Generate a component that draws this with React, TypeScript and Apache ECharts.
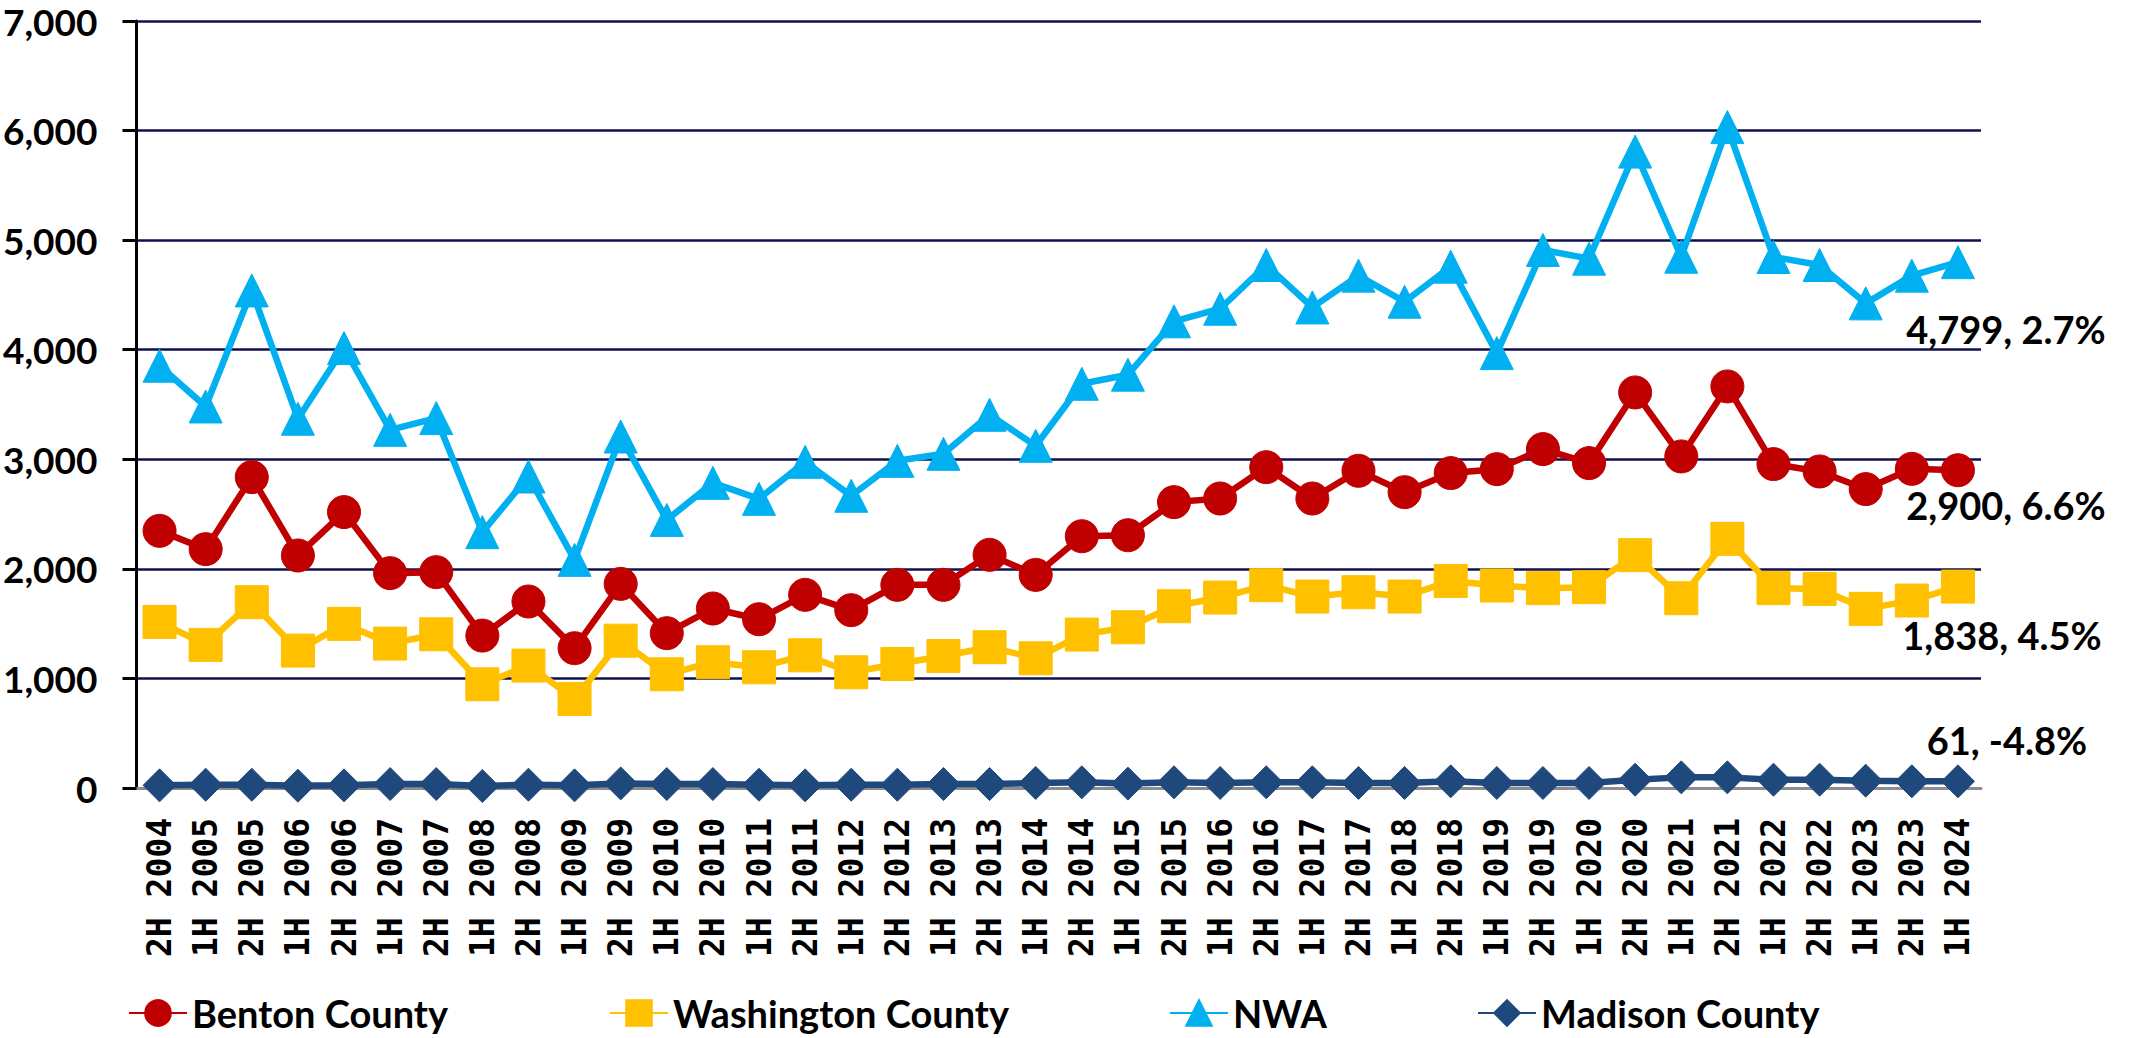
import React, { useEffect, useRef } from 'react';
import * as echarts from 'echarts';

const categories = [
  '2H 2004', '1H 2005', '2H 2005', '1H 2006', '2H 2006', '1H 2007', '2H 2007', '1H 2008',
  '2H 2008', '1H 2009', '2H 2009', '1H 2010', '2H 2010', '1H 2011', '2H 2011', '1H 2012',
  '2H 2012', '1H 2013', '2H 2013', '1H 2014', '2H 2014', '1H 2015', '2H 2015', '1H 2016',
  '2H 2016', '1H 2017', '2H 2017', '1H 2018', '2H 2018', '1H 2019', '2H 2019', '1H 2020',
  '2H 2020', '1H 2021', '2H 2021', '1H 2022', '2H 2022', '1H 2023', '2H 2023', '1H 2024',
];

const benton = [
  2347, 2180, 2837, 2122, 2518, 1961, 1970, 1391, 1702, 1276, 1863, 1413, 1638, 1540, 1763, 1623,
  1854, 1854, 2128, 1945, 2298, 2307, 2609, 2642, 2928, 2642, 2895, 2700, 2874, 2910, 3093, 2965,
  3610, 3026, 3665, 2956, 2889, 2728, 2913, 2900,
];

const washington = [
  1516, 1306, 1696, 1254, 1498, 1318, 1403, 947, 1117, 813, 1345, 1038, 1148, 1102, 1211, 1056,
  1132, 1205, 1285, 1184, 1400, 1467, 1659, 1738, 1851, 1747, 1787, 1747, 1890, 1848, 1824, 1833,
  2125, 1732, 2274, 1824, 1817, 1635, 1711, 1838,
];

const nwa = [
  3854, 3482, 4541, 3370, 4015, 3269, 3376, 2335, 2843, 2082, 3208, 2447, 2785, 2639, 2977, 2667,
  2986, 3050, 3406, 3123, 3689, 3772, 4259, 4374, 4773, 4386, 4676, 4438, 4758, 3969, 4910, 4831,
  5808, 4849, 6032, 4846, 4773, 4423, 4676, 4799,
];

const madison = [
  24, 30, 30, 21, 24, 36, 36, 18, 30, 24, 42, 36, 36, 30, 24, 30,
  30, 36, 36, 46, 52, 40, 52, 46, 52, 52, 46, 46, 61, 46, 46, 46,
  76, 97, 97, 76, 76, 67, 61, 61,
];

const seriesNames = ['Benton County', 'Washington County', 'NWA', 'Madison County'];
const endLabels = ['2,900, 6.6%', '1,838, 4.5%', '4,799, 2.7%', '61, -4.8%'];

const yMin = 0;
const yMax = 7000;
const yInterval = 1000;

const LABEL_FONT = 'Lato, "Open Sans", sans-serif';

function makeSeries(
  name: string,
  values: number[],
  color: string,
  symbol: string,
  endLabel: string,
  shift: number[],
) {
  const data = values.map((v, i) => {
    if (i !== values.length - 1) return v;
    return {
      value: v,
      label: {
        show: true,
        formatter: endLabel,
        position: 'inside',
        align: 'center',
        verticalAlign: 'middle',
        color: '#000',
        fontFamily: LABEL_FONT,
        fontWeight: 'bold',
        fontSize: 38,
      },
    };
  });
  return {
    name,
    type: 'line',
    data,
    symbol,
    symbolSize: 33,
    showAllSymbol: true,
    clip: false,
    lineStyle: { color, width: 6.5 },
    itemStyle: { color, borderColor: color, borderWidth: 1 },
    emphasis: { disabled: true },
    labelLayout: { hideOverlap: false, dx: shift[0], dy: shift[1] },
  };
}

const legendLefts = [128, 609, 1169, 1477];

const option = {
  animation: false,
  backgroundColor: '#ffffff',
  grid: { left: 135, right: 152, top: 21, bottom: 250, containLabel: false },
  legend: seriesNames.map((n, i) => ({
    data: [n],
    left: legendLefts[i],
    top: 993,
    padding: 0,
    itemWidth: 58,
    itemHeight: 32,
    itemGap: 0,
    selectedMode: false,
    textStyle: {
      color: '#000',
      fontFamily: LABEL_FONT,
      fontWeight: 'bold',
      fontSize: 38,
      lineHeight: 40,
    },
  })),
  xAxis: {
    type: 'category',
    data: categories,
    boundaryGap: true,
    axisLine: { show: true, lineStyle: { color: '#8C8C8C', width: 3 } },
    axisTick: { show: false },
    splitLine: { show: false },
    axisLabel: {
      interval: 0,
      rotate: 90,
      margin: 30,
      color: '#000',
      fontFamily: '"DejaVu Sans Mono", monospace',
      fontWeight: 'bold',
      fontSize: 33,
    },
  },
  yAxis: {
    type: 'value',
    min: yMin,
    max: yMax,
    interval: yInterval,
    axisLine: { show: true, lineStyle: { color: '#000', width: 3 } },
    axisTick: { show: true, length: 14, lineStyle: { color: '#000', width: 3 } },
    splitLine: { show: true, lineStyle: { color: '#10104E', width: 2.5 } },
    axisLabel: {
      margin: 39,
      color: '#000',
      fontFamily: LABEL_FONT,
      fontWeight: 'bold',
      fontSize: 37,
      lineHeight: 38,
      formatter: (v: number) => v.toLocaleString('en-US'),
    },
  },
  series: [
    makeSeries(seriesNames[0], benton, '#C00000', 'circle', endLabels[0], [48, 35]),
    makeSeries(seriesNames[1], washington, '#FFC000', 'rect', endLabels[1], [44, 48]),
    makeSeries(seriesNames[2], nwa, '#00B0F0', 'triangle', endLabels[2], [48, 67]),
    makeSeries(seriesNames[3], madison, '#1F497D', 'diamond', endLabels[3], [49, -41]),
  ],
};

export default function App() {
  const ref = useRef<HTMLDivElement>(null);
  useEffect(() => {
    document.body.style.margin = '0';
    document.body.style.overflow = 'hidden';
    const chart = echarts.init(ref.current as HTMLDivElement, null, { renderer: 'svg' });
    chart.setOption(option as any);
    return () => chart.dispose();
  }, []);
  return <div ref={ref} style={{ width: 2133, height: 1038 }} />;
}
